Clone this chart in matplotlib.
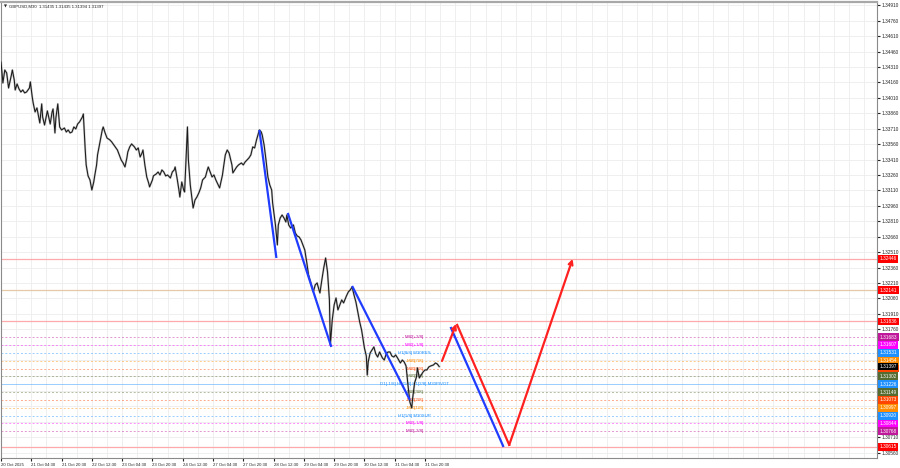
import numpy as np
import matplotlib
matplotlib.use("Agg")
from matplotlib import pyplot as plt

plt.rcParams["font.family"] = ["Liberation Sans", "DejaVu Sans"]

header = "GBPUSD,M30  1.31435 1.31435 1.31394 1.31397"

# M30 bars counted from 20 Oct 12:30, closes
bar_index = [
    0, 2, 4, 6, 8, 11, 12, 14, 15, 17, 19, 21, 23, 25, 27, 30, 31, 33, 34, 36,
    38, 40, 41, 43, 44, 46, 49, 51, 52, 54, 55, 57, 58, 60, 62, 64, 67, 69, 71, 73,
    75, 77, 79, 81, 83, 86, 87, 89, 90, 92, 94, 96, 98, 99, 101, 102, 105, 107, 108, 110,
    112, 115, 117, 120, 123, 125, 127, 129, 131, 133, 134, 136, 138, 141, 143, 145, 147, 149, 150, 152,
    154, 156, 157, 160, 161, 164, 166, 168, 170, 172, 174, 176, 179, 181, 183, 184, 186, 188, 189, 191,
    193, 194, 197, 198, 200, 202, 203, 205, 207, 209, 211, 213, 216, 218, 219, 221, 223, 225, 227, 229,
    231, 234, 235, 237, 239, 241, 242, 244, 245, 247, 249, 251, 254, 256, 258, 260, 262, 264, 266, 268,
    270, 273, 275, 276, 278, 280, 282, 284, 286, 287, 290, 292, 293, 295, 297, 299, 301, 302, 304, 306,
    309, 311, 313, 315, 317, 319, 321, 323, 325, 328, 330, 332, 334, 336, 337, 339, 341, 343, 345, 347,
    348, 350, 352, 354, 356, 358, 360, 362, 365, 367, 369, 371, 373, 375, 377, 379, 381, 384, 386, 387,
    388, 390, 392, 394, 396, 398, 400, 403, 405, 407, 409, 411, 413, 415, 417, 419, 422, 424, 426, 428,
    430, 432, 434, 435, 437, 439, 440, 442, 444, 446, 448, 450, 452, 454, 457, 459, 461, 463,
]
close_price = [
    1.34359, 1.34155, 1.34281, 1.34252, 1.34106, 1.34233, 1.34281, 1.34184, 1.34087, 1.34145,
    1.34097, 1.34067, 1.34087, 1.34058, 1.34067, 1.34106, 1.34165, 1.34019, 1.33960, 1.33873,
    1.33912, 1.33815, 1.33766, 1.33951, 1.33824, 1.33746, 1.33883, 1.33795, 1.33756, 1.33873,
    1.33902, 1.33669, 1.33815, 1.33951, 1.33727, 1.33698, 1.33717, 1.33678, 1.33698, 1.33669,
    1.33678, 1.33727, 1.33708, 1.33756, 1.33776, 1.33824, 1.33853, 1.33503, 1.33358, 1.33251,
    1.33212, 1.33114, 1.33192, 1.33251, 1.33358, 1.33455, 1.33601, 1.33698, 1.33727, 1.33669,
    1.33620, 1.33601, 1.33581, 1.33542, 1.33503, 1.33455, 1.33406, 1.33377, 1.33338, 1.33426,
    1.33484, 1.33533, 1.33562, 1.33533, 1.33503, 1.33523, 1.33435, 1.33474, 1.33503, 1.33358,
    1.33241, 1.33182, 1.33144, 1.33212, 1.33251, 1.33270, 1.33289, 1.33260, 1.33309, 1.33289,
    1.33251, 1.33260, 1.33231, 1.33289, 1.33309, 1.33338, 1.33231, 1.33114, 1.33046, 1.33192,
    1.33114, 1.33095, 1.33727, 1.33406, 1.33163, 1.33017, 1.32939, 1.33017, 1.33046, 1.33085,
    1.33134, 1.33212, 1.33241, 1.33309, 1.33338, 1.33289, 1.33241, 1.33260, 1.33212, 1.33173,
    1.33134, 1.33260, 1.33328, 1.33455, 1.33503, 1.33474, 1.33435, 1.33358, 1.33280, 1.33309,
    1.33338, 1.33358, 1.33377, 1.33358, 1.33387, 1.33406, 1.33426, 1.33455, 1.33533, 1.33523,
    1.33601, 1.33698, 1.33678, 1.33649, 1.33552, 1.33406, 1.33241, 1.33163, 1.33114, 1.32988,
    1.32774, 1.32580, 1.32774, 1.32842, 1.32871, 1.32842, 1.32803, 1.32871, 1.32774, 1.32745,
    1.32774, 1.32696, 1.32667, 1.32657, 1.32628, 1.32580, 1.32531, 1.32414, 1.32288, 1.32191,
    1.32123, 1.32191, 1.32210, 1.32142, 1.32113, 1.32239, 1.32356, 1.32453, 1.32317, 1.32045,
    1.31607, 1.31850, 1.31996, 1.32064, 1.31948, 1.31996, 1.32045, 1.32016, 1.32084, 1.32123,
    1.32142, 1.32171, 1.32093, 1.32025, 1.31928, 1.31831, 1.31753, 1.31578, 1.31500, 1.31315,
    1.31442, 1.31529, 1.31559, 1.31588, 1.31520, 1.31490, 1.31539, 1.31481, 1.31461, 1.31520,
    1.31539, 1.31539, 1.31500, 1.31490, 1.31510, 1.31481, 1.31432, 1.31461, 1.31442, 1.31403,
    1.31218, 1.31053, 1.30995, 1.31092, 1.31238, 1.31296, 1.31384, 1.31286, 1.31315, 1.31345,
    1.31364, 1.31364, 1.31393, 1.31403, 1.31413, 1.31432, 1.31422, 1.31397,
]
last_price = 1.31397

time_labels = [
    "20 Oct 2025", "21 Oct 04:30", "21 Oct 20:30", "22 Oct 12:30", "23 Oct 04:30",
    "23 Oct 20:30", "24 Oct 12:30", "27 Oct 04:30", "27 Oct 20:30", "28 Oct 12:30",
    "29 Oct 04:30", "29 Oct 20:30", "30 Oct 12:30", "31 Oct 04:30", "31 Oct 20:30",
]
bars_per_label = 32
bars_per_grid = 16

# Murrey math levels
mm_levels = [1.31683, 1.31607, 1.31531, 1.31454, 1.31378, 1.31302, 1.31226,
             1.31149, 1.31073, 1.30997, 1.30920, 1.30844, 1.30768]
mm_names = ["M30[+2/8]", "M30[+1/8]", "H1[8/8] M30RES", "M30[7/8]", "M30[6/8]",
            "M30[5/8]", "D1[-1/8] H4[1/8] H1[2/8] M30PIVOT", "M30[3/8]", "M30[2/8]",
            "M30[1/8]", "H1[1/8] M30SUP", "M30[-1/8]", "M30[-2/8]"]
mm_colors = ["#c0189a", "#ff00ff", "#1e90ff", "#ff8c00", "#ff4500", "#556b2f", "#1e90ff",
             "#556b2f", "#ff4500", "#ff8c00", "#1e90ff", "#ff00ff", "#c0189a"]
mm_text_bar = 437

red_levels = [1.32446, 1.32141, 1.31836, 1.30615]
red_level_lines = ["#ffaaaa", "#e6c9a8", "#ffaaaa", "#ffaaaa"]

# projected swings (bar, price) pairs
blue_swings = [
    ((273, 1.33698), (291, 1.32453)),
    ((303, 1.32891), (349, 1.31588)),
    ((371, 1.32181), (432, 1.31072)),
    ((475, 1.31782), (531, 1.30615)),
]
red_path = [(466, 1.31452), (481, 1.31812), (482, 1.31802), (537, 1.30635), (604, 1.32444)]

fig = plt.figure(figsize=(9, 4.68), dpi=100)
ax = fig.add_axes([1 / 900, 10 / 468, 876 / 900, 456.5 / 468])
ax.set_xlim(0, 925.6)
ax.set_ylim(1.30508, 1.34947)

price_ticks = np.round(np.arange(1.30560, 1.34911, 0.0015), 5)
for p in price_ticks:
    ax.axhline(p, color="#ececec", lw=0.6, zorder=0)
for b in np.arange(0, 926, bars_per_grid):
    ax.axvline(b, color="#ececec", lw=0.6, zorder=0)

for p, c in zip(red_levels, red_level_lines):
    ax.axhline(p, color=c, lw=0.9, zorder=1)
for i, (p, c) in enumerate(zip(mm_levels, mm_colors)):
    ls = "-" if i == 6 else (0, (2, 2))
    ax.axhline(p, color=c, lw=0.7, ls=ls, alpha=0.45, zorder=1)
    ax.text(mm_text_bar, p, mm_names[i], color=c, fontsize=3.2, ha="center", va="center", zorder=2)

ax.plot(bar_index, close_price, color="#8c8c8c", lw=1.5, alpha=0.5, zorder=3)
ax.plot(bar_index, close_price, color="#1a1a1a", lw=0.75, zorder=4)

for (b0, p0), (b1, p1) in blue_swings:
    ax.plot([b0, b1], [p0, p1], color="#1f3cff", lw=1.6, zorder=5, solid_capstyle="butt")

for k in range(len(red_path) - 1):
    (b0, p0), (b1, p1) = red_path[k], red_path[k + 1]
    if k in (0, 3):
        ax.annotate("", xy=(b1, p1), xytext=(b0, p0),
                    arrowprops=dict(arrowstyle="->", color="#ff2020", lw=1.6,
                                    mutation_scale=7, shrinkA=0, shrinkB=0), zorder=6)
    elif k == 2:
        ax.plot([b0, b1], [p0, p1], color="#ff2020", lw=1.6, zorder=6)

for s in ax.spines.values():
    s.set_color("#8a8a8a")
    s.set_linewidth(0.8)
ax.spines["top"].set_linewidth(1.6)
ax.spines["top"].set_color("#a8a8a8")

label_prices = red_levels + mm_levels + [last_price]
shown_ticks = [t for t in price_ticks if np.min(np.abs(np.array(label_prices) - t)) > 0.0004]
ax.yaxis.tick_right()
ax.set_yticks(shown_ticks)
ax.set_yticklabels([f"{t:.5f}" for t in shown_ticks])
ax.tick_params(axis="y", labelsize=3.4, length=2, pad=1.5, colors="#222222")

ax.set_xticks(np.arange(len(time_labels)) * bars_per_label)
ax.set_xticklabels(time_labels, ha="left")
ax.tick_params(axis="x", labelsize=3.1, length=2, pad=1.5, colors="#222222")

ytr = ax.get_yaxis_transform()
for p in red_levels:
    ax.text(1.003, p, f"{p:.5f}", transform=ytr, fontsize=3.4, color="white", ha="left",
            va="center", clip_on=False, zorder=10,
            bbox=dict(boxstyle="square,pad=0.3", fc="#ff0000", ec="none"))
for p, c in zip(mm_levels, mm_colors):
    ax.text(1.003, p, f"{p:.5f}", transform=ytr, fontsize=3.4, color="white", ha="left",
            va="center", clip_on=False, zorder=10,
            bbox=dict(boxstyle="square,pad=0.3", fc=c, ec="none"))
ax.text(1.003, last_price, f"{last_price:.5f}", transform=ytr, fontsize=3.4, color="white",
        ha="left", va="center", clip_on=False, zorder=11,
        bbox=dict(boxstyle="square,pad=0.3", fc="#000000", ec="none"))

ax.text(0.003, 0.993, "\u25bc", transform=ax.transAxes, fontsize=2.8, ha="left", va="top",
        family=["DejaVu Sans"], color="#222222")
ax.text(0.009, 0.993, header, transform=ax.transAxes, fontsize=3.1, ha="left", va="top",
        color="#222222")

fig.savefig("out.png", dpi=100)
